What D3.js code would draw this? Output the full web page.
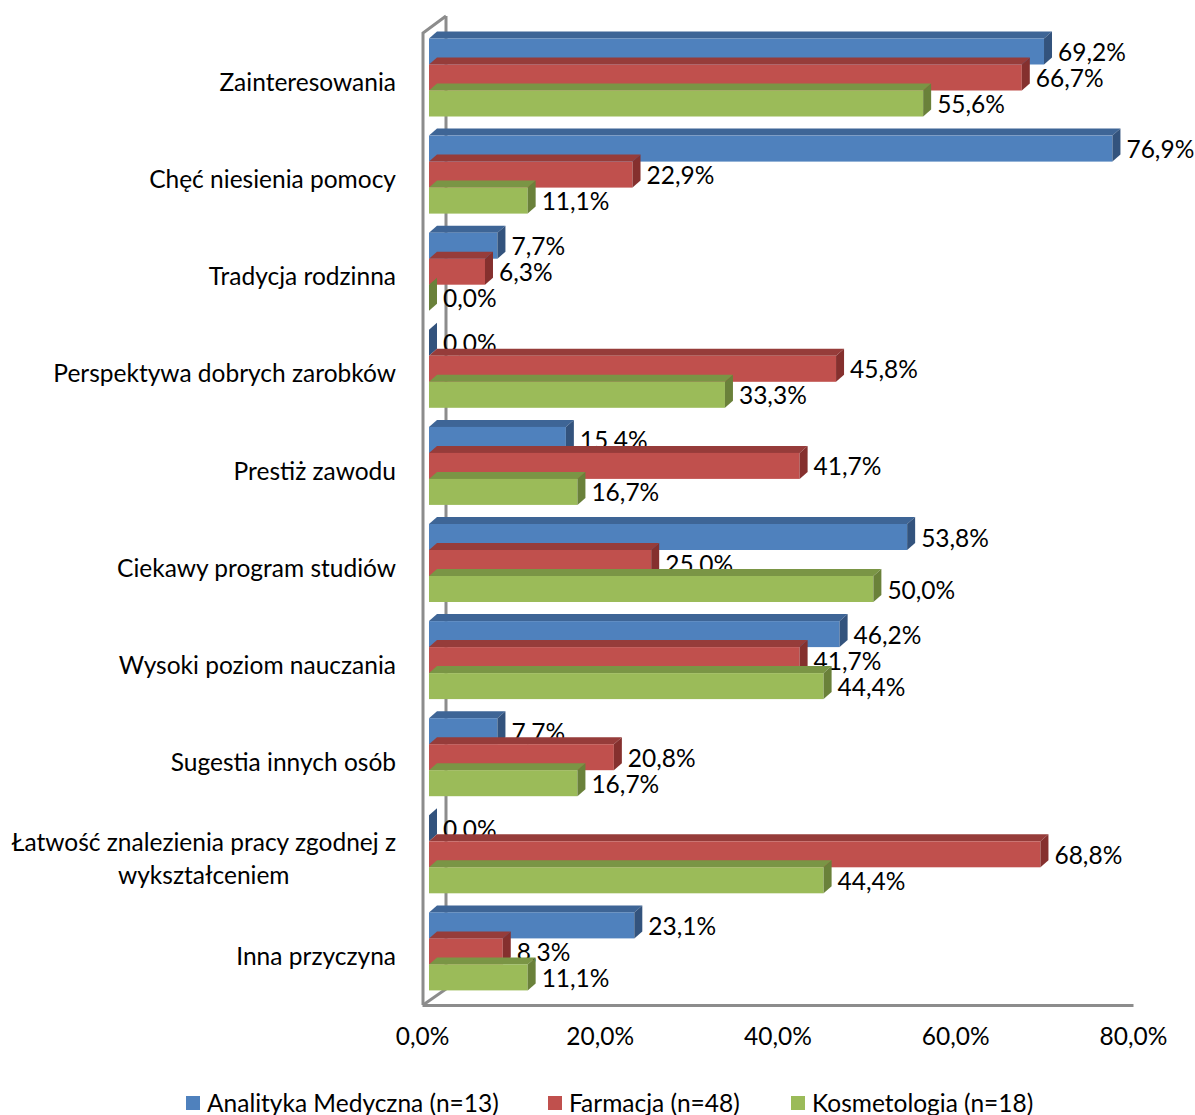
<!DOCTYPE html>
<html>
<head>
<meta charset="utf-8">
<script src="https://cdn.jsdelivr.net/npm/d3@7"></script>
<style>
  body { margin: 0; background: #fff; }
  text { font-family: Lato, "Open Sans", sans-serif; fill: #000; }
</style>
</head>
<body>
<svg id="chart"></svg>
<script>
var categories = [
    "Zainteresowania",
    "Chęć niesienia pomocy",
    "Tradycja rodzinna",
    "Perspektywa dobrych zarobków",
    "Prestiż zawodu",
    "Ciekawy program studiów",
    "Wysoki poziom nauczania",
    "Sugestia innych osób",
    "Łatwość znalezienia pracy zgodnej z|wykształceniem",
    "Inna przyczyna"
];
var seriesNames = ["Analityka Medyczna (n=13)", "Farmacja (n=48)", "Kosmetologia (n=18)"];
var analityka = [69.2, 76.9, 7.7, 0.0, 15.4, 53.8, 46.2, 7.7, 0.0, 23.1];
var farmacja = [66.7, 22.9, 6.3, 45.8, 41.7, 25.0, 41.7, 20.8, 68.8, 8.3];
var kosmetologia = [55.6, 11.1, 0.0, 33.3, 16.7, 50.0, 44.4, 16.7, 44.4, 11.1];
var xTicks = [0, 20, 40, 60, 80];

var width = 1195,
    height = 1115,
    depthX = 8,
    depthY = 7,
    fontSize = 24.5;

var colors = [
    {front: "#4F81BD", top: "#3E6596", side: "#33537D"},
    {front: "#C0504D", top: "#963C3A", side: "#85302E"},
    {front: "#9BBB59", top: "#7A9545", side: "#6A813A"}
];

var allSeries = [analityka, farmacja, kosmetologia];

var svg = d3.select("#chart")
    .attr("width", width)
    .attr("height", height);

var x = d3.scaleLinear().domain([0, 80]).range([429, 1140]);
var xFloor = d3.scaleLinear().domain([0, 80]).range([422, 1133]);

var y = d3.scaleBand().domain(categories).range([34, 1005]);
var yInner = d3.scaleBand().domain(d3.range(3)).range([4.5, 82.5]);

var fmt = function (v) { return v.toFixed(1).replace(".", ",") + "%"; };

// walls
var wall = svg.append("g")
    .style("fill", "none")
    .style("stroke", "#8C8C8C")
    .style("stroke-width", 3);

wall.append("path").attr("d", "M446,16 L446,989");
wall.append("path").attr("d", "M423,1005 L446,989");

// bars
var bars = svg.append("g");
categories.forEach(function (cat, ci) {
    allSeries.forEach(function (s, si) {
        var v = s[ci],
            x0 = x(0),
            x1 = x(v),
            y0 = y(cat) + yInner(si),
            y1 = y0 + yInner.bandwidth(),
            c = colors[si];
        var g = bars.append("g");
        if (v > 0) {
            g.append("path")
                .attr("d", "M" + x0 + "," + y0 + "L" + (x0 + depthX) + "," + (y0 - depthY) +
                    "L" + (x1 + depthX) + "," + (y0 - depthY) + "L" + x1 + "," + y0 + "Z")
                .style("fill", c.top);
            g.append("rect")
                .attr("x", x0).attr("y", y0)
                .attr("width", x1 - x0).attr("height", y1 - y0)
                .style("fill", c.front);
        }
        g.append("path")
            .attr("d", "M" + x1 + "," + y0 + "L" + (x1 + depthX) + "," + (y0 - depthY) +
                "L" + (x1 + depthX) + "," + (y1 - depthY) + "L" + x1 + "," + y1 + "Z")
            .style("fill", c.side);
        g.append("text")
            .attr("x", x1 + depthX + 6)
            .attr("y", (y0 + y1) / 2 + 1)
            .attr("dy", "0.35em")
            .style("font-size", fontSize + "px")
            .text(fmt(v));
    });
});

// front wall line and floor
svg.append("path")
    .attr("d", "M446,16 L423,33 L423,1005")
    .style("fill", "none")
    .style("stroke", "#8C8C8C")
    .style("stroke-width", 3);

var xAxis = d3.axisBottom(xFloor)
    .tickValues(xTicks)
    .tickSize(0)
    .tickPadding(23)
    .tickFormat(fmt);

var axisG = svg.append("g")
    .attr("transform", "translate(0,1005)")
    .call(xAxis);
axisG.select(".domain")
    .attr("stroke", "#8C8C8C")
    .attr("stroke-width", 3);
axisG.selectAll("text")
    .style("font-family", "Lato, sans-serif")
    .style("font-size", fontSize + "px")
    .attr("fill", "#000");

// category labels
var labels = svg.append("g")
    .style("font-size", fontSize + "px");
categories.forEach(function (cat) {
    var lines = cat.split("|"),
        cy = y(cat) + y.bandwidth() / 2;
    if (lines.length === 1) {
        labels.append("text")
            .attr("x", 396)
            .attr("y", cy)
            .attr("dy", "0.35em")
            .attr("text-anchor", "end")
            .text(lines[0]);
    } else {
        var first = labels.append("text")
            .attr("y", cy - 16.5)
            .attr("dy", "0.35em")
            .attr("text-anchor", "middle")
            .text(lines[0]);
        var w = first.node().getComputedTextLength();
        var mid = 396 - w / 2;
        first.attr("x", mid);
        labels.append("text")
            .attr("x", mid)
            .attr("y", cy + 16.5)
            .attr("dy", "0.35em")
            .attr("text-anchor", "middle")
            .text(lines[1]);
    }
});

// legend
var legendX = [186, 548, 791];
var legend = svg.append("g")
    .attr("transform", "translate(0,1103)");
seriesNames.forEach(function (name, i) {
    legend.append("rect")
        .attr("x", legendX[i])
        .attr("y", -7)
        .attr("width", 14)
        .attr("height", 14)
        .style("fill", colors[i].front);
    legend.append("text")
        .attr("x", legendX[i] + 21)
        .attr("dy", "0.35em")
        .style("font-size", fontSize + "px")
        .text(name);
});
</script>
</body>
</html>
